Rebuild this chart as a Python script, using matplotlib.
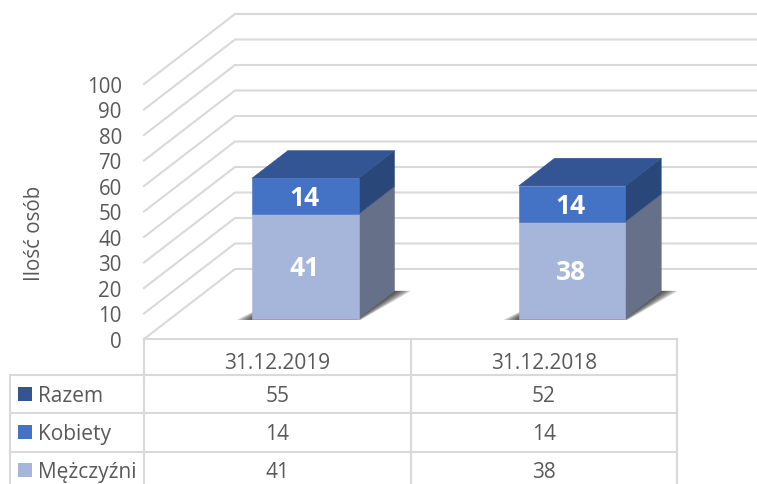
#!/usr/bin/env python
import matplotlib
matplotlib.use("Agg"); import matplotlib.pyplot as plt
from matplotlib.patches import Polygon, Rectangle
import numpy as np
plt.rcParams.update({"font.family":["Open Sans","DejaVu Sans"]})

categories=["31.12.2019","31.12.2018"]
men=[41,38]
women=[14,14]
total=[55,52]
rows=[("Razem",total),("Kobiety",women),("Mężczyźni",men)]
yticks=list(range(0,101,10))

C_TOTAL="#335593"; C_WOMEN="#4472C4"; C_MEN="#A6B5DA"
C_SIDE_W="#2A4779"; C_SIDE_M="#667189"
GRID="#D9D9D9"; TXT="#595959"
W,H=757,485
# przod podlogi: x 144-677, y 340 (0) -> 85 (100); glebokosc = 91 px w prawo, 70 px w gore
L,R,Y0,Y100=144,677,340,85
DX=91/((R-L)/2); DV=70/((Y0-Y100)/100)
BW=0.40; BD=0.395

def pj(x,v,d):
    return (x+d*DX, v+d*DV)

fig=plt.figure(figsize=(W/100,H/100),dpi=100)
ax=fig.add_axes([L/W,1-Y0/H,(R-L)/W,(Y0-Y100)/H])
ax.set_xlim(0,2); ax.set_ylim(0,100)
ax.patch.set_alpha(0)
for s in ax.spines.values(): s.set_visible(False)
ax.set_xticks([])
ax.set_yticks(yticks)
ax.tick_params(axis="y",length=0,pad=16,labelsize=14.8,labelcolor=TXT)
ax.set_ylabel("Ilość osób",fontsize=14.8,color=TXT)
ax.yaxis.set_label_coords(-0.185,0.42)

# siatka: sciana boczna i tylna
for v in yticks:
    a=pj(0,v,0); b=pj(0,v,1); c=pj(2.1,v,1)
    ax.plot([a[0],b[0],c[0]],[a[1],b[1],c[1]],color=GRID,lw=1.5,clip_on=False,zorder=1,solid_joinstyle="miter")

def face(pts,color,z):
    ax.add_patch(Polygon(pts,closed=True,facecolor=color,edgecolor=color,lw=0.4,clip_on=False,zorder=z))

for i,cat in enumerate(categories):
    x0=i+0.5-BW/2+0.005+0.001*i; x1=x0+BW
    d0=0.49-BD/2; d1=0.49+BD/2
    m=men[i]; t=men[i]+women[i]
    # cien na podlodze
    for k,g in enumerate(np.linspace(0.05,0.0,6)):
        sh=[pj(x0-g,0,d0-0.02),pj(x1+g*0.3,0,d0-0.02),pj(x1+g+0.012,0,d1),pj(x0+g*0.5,0,d1)]
        ax.add_patch(Polygon(sh,closed=True,facecolor="#202020",alpha=0.2,edgecolor="none",clip_on=False,zorder=2))
    # boki
    face([pj(x1,0,d0),pj(x1,0,d1),pj(x1,m,d1),pj(x1,m,d0)],C_SIDE_M,3)
    face([pj(x1,m,d0),pj(x1,m,d1),pj(x1,t,d1),pj(x1,t,d0)],C_SIDE_W,3)
    # gora
    face([pj(x0,t,d0),pj(x1,t,d0),pj(x1,t,d1),pj(x0,t,d1)],C_TOTAL,3)
    # przod
    face([pj(x0,0,d0),pj(x1,0,d0),pj(x1,m,d0),pj(x0,m,d0)],C_MEN,4)
    face([pj(x0,m,d0),pj(x1,m,d0),pj(x1,t,d0),pj(x0,t,d0)],C_WOMEN,4)
    lx,_=pj((x0+x1)/2,0,d0)
    lx-=0.004
    ax.text(lx,pj(0,m/2,d0)[1]-0.6,str(m),color="white",fontsize=19,fontweight="bold",ha="center",va="center",zorder=5)
    ax.text(lx,pj(0,m+women[i]/2,d0)[1]-0.5,str(women[i]),color="white",fontsize=19,fontweight="bold",ha="center",va="center",zorder=5)

# tabela danych, wspolrzedne w pikselach
tb=fig.add_axes([0,0,1,1]); tb.set_xlim(0,W); tb.set_ylim(H,0); tb.axis("off"); tb.patch.set_alpha(0)
XS=[10,L,(L+R)/2,R]; YS=[376,414,452.5]
kw=dict(color=GRID,lw=1.5,clip_on=True)
tb.plot([L,R],[Y0,Y0],**kw)
for y in YS: tb.plot([XS[0],R],[y,y],**kw)
tb.plot([XS[0],XS[0]],[YS[0],H],**kw)
for x in XS[1:]: tb.plot([x,x],[Y0,H],**kw)
for i,cat in enumerate(categories):
    tb.text((XS[i+1]+XS[i+2])/2,363.5,cat,ha="center",va="center",fontsize=15,color=TXT)
RC=[395,433,471]
for yc,(name,vals),col in zip(RC,rows,[C_TOTAL,C_WOMEN,C_MEN]):
    tb.add_patch(Rectangle((18,yc-7),14,14,facecolor=col,edgecolor="none"))
    tb.text(38,yc+1.5,name,ha="left",va="center",fontsize=15,color=TXT)
    for i,v in enumerate(vals):
        tb.text((XS[i+1]+XS[i+2])/2,yc+1.5,str(v),ha="center",va="center",fontsize=15,color=TXT)

fig.savefig("out.png",dpi=100)
